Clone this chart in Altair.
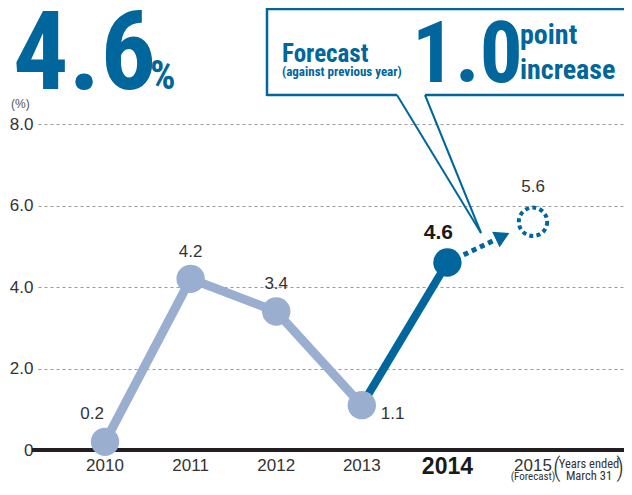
import altair as alt
import pandas as pd

# ---------------- data ----------------
years = [2010, 2011, 2012, 2013, 2014, 2015]
values = [0.2, 4.2, 3.4, 1.1, 4.6, 5.6]
value_labels = ["0.2", "4.2", "3.4", "1.1", "4.6", "5.6"]
year_labels = ["2010", "2011", "2012", "2013", "2014", "2015"]
y_ticks = [0, 2, 4, 6, 8]

headline_value = ["4.6"]
headline_unit = ["%"]
unit_label = ["(%)"]
forecast_title = ["Forecast"]
forecast_sub = ["(against previous year)"]
forecast_value = ["1.0"]
forecast_unit = ["point", "increase"]
forecast_note = ["(Forecast)"]
period_note = ["Years ended", "March 31"]

# ---------------- style ----------------
BLUE = "#00669b"
LIGHT = "#9aafd0"
TEXT = "#333333"
NARROW = "Roboto Condensed, Roboto, sans-serif"
SANS = "Liberation Sans, Helvetica, Arial, sans-serif"

W, H = 586, 326

df = pd.DataFrame({"year": years, "value": values, "label": value_labels, "ylab": year_labels})

xscale = alt.Scale(domain=[2009.217, 2016.063], nice=False, zero=False)
yscale = alt.Scale(domain=[0, 8], nice=False)
yaxis = alt.Axis(
    values=y_ticks, title=None, domain=False, ticks=False, labelPadding=5,
    labelFontSize=17, labelColor=TEXT, labelFont=SANS,
    labelExpr="datum.value == 0 ? '0' : format(datum.value, '.1f')",
    grid=True, gridDash=[3, 3], gridColor="#9a9a9a", gridWidth=1,
)
X = alt.X("year:Q", scale=xscale, axis=None)
Y = alt.Y("value:Q", scale=yscale, axis=yaxis)

base = alt.Chart(df)

zero_rule = alt.Chart(pd.DataFrame({"value": [0]})).mark_rule(
    color="#231f20", strokeWidth=4
).encode(y=Y, x=alt.value(-6), x2=alt.value(W))

light_line = base.transform_filter("datum.year <= 2013").mark_line(
    color=LIGHT, strokeWidth=9
).encode(x=X, y=Y)

dark_line = base.transform_filter("datum.year >= 2013 && datum.year <= 2014").mark_line(
    color=BLUE, strokeWidth=8
).encode(x=X, y=Y)

# dotted arrow from 2014 actual to 2015 forecast (derived from the data points)
x0, y0, x1, y1 = years[4], values[4], years[5], values[5]
def along(f):
    return x0 + f * (x1 - x0), y0 + f * (y1 - y0)
seg = pd.DataFrame([along(0.19), along(0.58)], columns=["year", "value"])
tip = pd.DataFrame([along(0.645)], columns=["year", "value"])

dotted = alt.Chart(seg).mark_line(
    color=BLUE, strokeWidth=5, strokeDash=[5, 4]
).encode(x=X, y=Y)

arrow = alt.Chart(tip).mark_point(
    shape="triangle-right", filled=True, size=300, angle=334.5, color=BLUE, opacity=1
).encode(x=X, y=Y)

light_pts = base.transform_filter("datum.year <= 2013").mark_circle(
    size=804, color=LIGHT, opacity=1
).encode(x=X, y=Y)

dark_pt = base.transform_filter("datum.year == 2014").mark_circle(
    size=804, color=BLUE, opacity=1
).encode(x=X, y=Y)

forecast_pt = base.transform_filter("datum.year == 2015").mark_point(
    shape="circle", filled=False, size=804, strokeWidth=4, strokeDash=[4, 3.3],
    color=BLUE, opacity=1
).encode(x=X, y=Y)


def val_label(year, dx, dy, align="center", size=17, weight="normal", color=TEXT):
    return base.transform_filter(f"datum.year == {year}").mark_text(
        dx=dx, dy=dy, align=align, baseline="alphabetic", fontSize=size,
        fontWeight=weight, font=SANS, color=color
    ).encode(x=X, y=Y, text="label:N")


labels = [
    val_label(2010, -13, -23),
    val_label(2011, 0, -22),
    val_label(2012, 0, -22),
    val_label(2013, 19, 14, align="left"),
    val_label(2014, -9, -24, size=21, weight="bold", color="#1a1a1a"),
    val_label(2015, 0, -30),
]

year_text = base.transform_filter("datum.year != 2014").mark_text(
    align="center", baseline="alphabetic", fontSize=17, font=SANS, color=TEXT
).encode(x=X, y=alt.value(347), text="ylab:N")

year_bold = base.transform_filter("datum.year == 2014").mark_text(
    align="center", baseline="alphabetic", fontSize=23, fontWeight="bold",
    font=SANS, color="#1a1a1a"
).encode(x=X, y=alt.value(350), text="ylab:N")


def note(texts, x, y, size, weight="normal", color=TEXT, font=NARROW, align="left"):
    d = pd.DataFrame({"t": texts})
    return alt.Chart(d).mark_text(
        align=align, baseline="alphabetic", fontSize=size, fontWeight=weight,
        font=font, color=color
    ).encode(x=alt.value(x), y=alt.value(y), text="t:N")


forecast_below = base.transform_filter("datum.year == 2015").transform_calculate(
    note=f"'{forecast_note[0]}'"
).mark_text(
    align="center", baseline="alphabetic", fontSize=11, font=NARROW, color=TEXT
).encode(x=X, y=alt.value(356), text="note:N")

period_a = note([period_note[0]], 551, 344, 12.5, align="center")
period_b = note([period_note[1]], 551, 356, 12.5, align="center")
paren_l = note(["("], 515, 352, 26, weight=300, color=TEXT)
paren_r = note([")"], 586, 352, 26, weight=300, color=TEXT, align="right")

big_value = note(headline_value, -25, -35, 110, weight="bold", color=BLUE)
big_unit = note(headline_unit, 112, -35, 40, weight="bold", color=BLUE)
pct = note(unit_label, -27, -16, 12, color="#555555", font=SANS)

f_title = note(forecast_title, 244, -62, 25, weight="bold", color=BLUE)
f_sub = note(forecast_sub, 244, -48, 13, weight="bold", color=BLUE)
f_val = note(forecast_value, 374, -42, 85, weight="bold", color=BLUE)
f_u1 = note([forecast_unit[0]], 482, -80, 28, weight="bold", color=BLUE)
f_u2 = note([forecast_unit[1]], 482, -45, 28, weight="bold", color=BLUE)

# callout box (decoration)
def seg_rule(xa, ya, xb, yb, w=2.5):
    return alt.Chart(pd.DataFrame({"k": [0]})).mark_rule(
        color=BLUE, strokeWidth=w
    ).encode(x=alt.value(xa), y=alt.value(ya), x2=alt.value(xb), y2=alt.value(yb))

box = [
    seg_rule(229, -115, W + 2, -115),
    seg_rule(229, -116, 229, -28),
    seg_rule(229, -29, 359, -29),
    seg_rule(387, -29, W + 2, -29),
    seg_rule(359, -29, 443, 109, 2),
    seg_rule(387, -29, 443, 109, 2),
]

chart = alt.layer(
    zero_rule, light_line, dark_line, dotted, arrow,
    light_pts, dark_pt, forecast_pt,
    *labels, year_text, year_bold, forecast_below,
    period_a, period_b, paren_l, paren_r,
    big_value, big_unit, pct,
    *box,
    f_title, f_sub, f_val, f_u1, f_u2,
).properties(
    width=W, height=H,
    padding={"left": 30, "top": 116, "right": 0, "bottom": 33},
    autosize=alt.AutoSizeParams(type="none"),
    background="white",
).configure_view(stroke=None)

chart.save("out.html", embed_options={"renderer": "svg", "actions": False})
